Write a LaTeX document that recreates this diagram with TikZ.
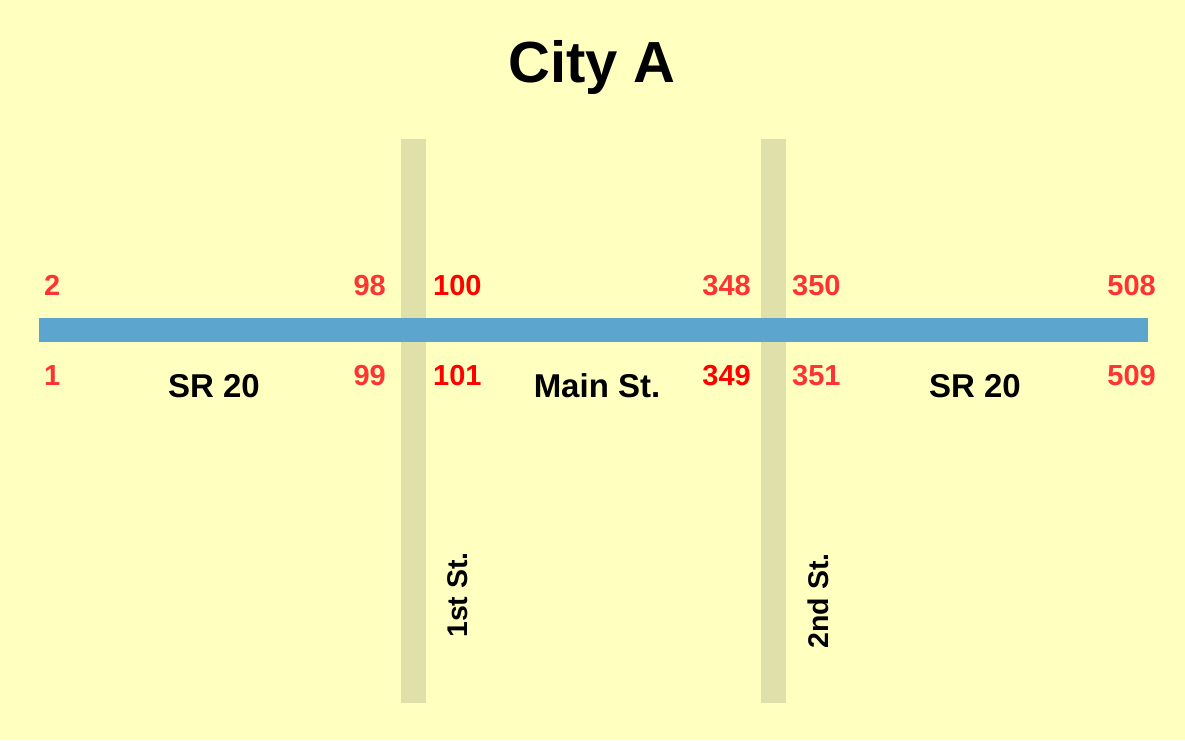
\documentclass[tikz,border=0pt]{standalone}
\usepackage{fontspec}
\setmainfont{Liberation Sans}
\definecolor{bgc}{RGB}{255,255,192}
\definecolor{sidec}{RGB}{224,224,170}
\definecolor{mainc}{RGB}{92,165,207}
\definecolor{numa}{RGB}{255,51,51}
\definecolor{numb}{RGB}{255,0,0}
\tikzset{
  num/.style={inner sep=0pt, font=\bfseries\fontsize{29}{29}\selectfont},
  lbl/.style={inner sep=0pt, font=\bfseries\fontsize{33}{33}\selectfont, anchor=base},
  vlbl/.style={inner sep=0pt, font=\bfseries\fontsize{28.5}{28.5}\selectfont, rotate=90},
  sideroad/.style={fill=sidec, draw=none},
  mainroad/.style={fill=mainc, draw=none}
}
\begin{document}
\begin{tikzpicture}[x=1pt,y=-1pt]
\fill[bgc] (0,0) rectangle (1185,740);
\useasboundingbox (0,0) rectangle (1185,740);
\node[inner sep=0pt, anchor=base, font=\bfseries\fontsize{58}{58}\selectfont] (title) at (592,82) {City A};
% side streets
\path[sideroad] (401,139) rectangle (426,703) node[pos=0.5] (first) {};
\path[sideroad] (761,139) rectangle (786,703) node[pos=0.5] (second) {};
% main road
\path[mainroad] (39,318) rectangle (1148,342) node[pos=0.5] (main) {};
% numbers top
\node[num, text=numa, anchor=base west] (n2) at (44,295) {2};
\node[num, text=numa, anchor=base east] (n98) at (386,295) {98};
\node[num, text=numb, anchor=base west] (n100) at (433,295) {100};
\node[num, text=numa, anchor=base east] (n348) at (751,295) {348};
\node[num, text=numa, anchor=base west] (n350) at (792,295) {350};
\node[num, text=numa, anchor=base east] (n508) at (1156,295) {508};
% numbers bottom
\node[num, text=numa, anchor=base west] (n1) at (44,385) {1};
\node[num, text=numa, anchor=base east] (n99) at (386,385) {99};
\node[num, text=numb, anchor=base west] (n101) at (433,385) {101};
\node[num, text=numb, anchor=base east] (n349) at (751,385) {349};
\node[num, text=numa, anchor=base west] (n351) at (792,385) {351};
\node[num, text=numa, anchor=base east] (n509) at (1156,385) {509};
% road labels
\node[lbl] (sr20a) at (214,397) {SR 20};
\node[lbl] (mainst) at (597,397) {Main St.};
\node[lbl] (sr20b) at (975,397) {SR 20};
\node[vlbl] (firstst) at (458,595) {1st St.};
\node[vlbl] (secondst) at (818,601) {2nd St.};
\end{tikzpicture}
\end{document}
